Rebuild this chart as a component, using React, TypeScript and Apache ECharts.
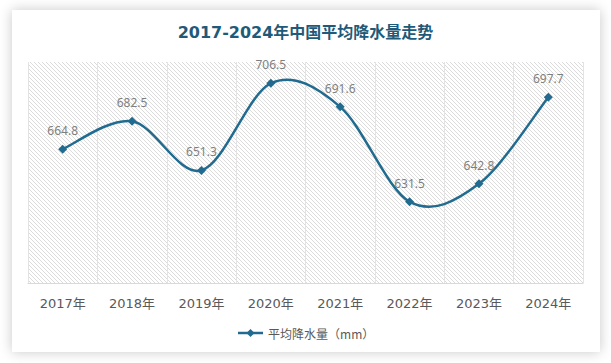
import React, { useEffect, useRef } from "react";
import * as echarts from "echarts";

const categories = ["2017年", "2018年", "2019年", "2020年", "2021年", "2022年", "2023年", "2024年"];
const rainfall = [664.8, 682.5, 651.3, 706.5, 691.6, 631.5, 642.8, 697.7];
const seriesName = "平均降水量（mm）";
const titleText = "2017-2024年中国平均降水量走势";

const LINE_COLOR = "#206b8f";

function makeHatch(): HTMLCanvasElement {
  const size = 4;
  const c = document.createElement("canvas");
  c.width = size;
  c.height = size;
  const ctx = c.getContext("2d")!;
  ctx.fillStyle = "#ffffff";
  ctx.fillRect(0, 0, size, size);
  ctx.fillStyle = "#dcdcdc";
  for (let x = 0; x < size; x++) {
    for (let y = 0; y < size; y++) {
      if ((x - y + size) % size === 0) ctx.fillRect(x, y, 1, 1);
    }
  }
  return c;
}

export default function App() {
  const ref = useRef<HTMLDivElement>(null);
  useEffect(() => {
    document.body.style.margin = "0";
    const chart = echarts.init(ref.current!, undefined, { renderer: "svg" });
    const hatch = makeHatch();

    const renderCurve = (_params: any, api: any) => {
      const pts = rainfall.map((v, i) => api.coord([i, v]) as number[]);
      const n = pts.length;
      let d = `M${pts[0][0]},${pts[0][1]}`;
      for (let i = 0; i < n - 1; i++) {
        const p0 = pts[Math.max(i - 1, 0)];
        const p1 = pts[i];
        const p2 = pts[i + 1];
        const p3 = pts[Math.min(i + 2, n - 1)];
        const c1x = p1[0] + (p2[0] - p0[0]) / 6;
        const c1y = p1[1] + (p2[1] - p0[1]) / 6;
        const c2x = p2[0] - (p3[0] - p1[0]) / 6;
        const c2y = p2[1] - (p3[1] - p1[1]) / 6;
        d += ` C${c1x},${c1y} ${c2x},${c2y} ${p2[0]},${p2[1]}`;
      }
      return {
        type: "path",
        shape: { pathData: d },
        style: { stroke: LINE_COLOR, lineWidth: 2.5, fill: "none" },
      };
    };

    chart.setOption({
      animation: false,
      title: {
        text: titleText,
        left: "center",
        top: 24,
        padding: 0,
        textStyle: {
          fontFamily: "'DejaVu Sans', 'Noto Sans CJK SC'",
          fontWeight: "bold",
          fontSize: 16,
          color: "#1f5a78",
        },
      },
      grid: {
        left: 28,
        right: 28,
        top: 62,
        bottom: 80,
        show: true,
        borderWidth: 0,
        backgroundColor: { image: hatch, repeat: "repeat", imageWidth: 4, imageHeight: 4 },
      },
      legend: {
        data: [seriesName],
        top: 322,
        left: "center",
        itemWidth: 25,
        itemHeight: 10,
        itemGap: 2,
        lineStyle: { color: LINE_COLOR, width: 2.5, opacity: 1 },
        textStyle: {
          fontFamily: "'Noto Sans CJK SC'",
          fontSize: 12,
          color: "#595959",
        },
      },
      xAxis: {
        type: "category",
        data: categories,
        boundaryGap: true,
        axisLine: { lineStyle: { color: "#d9d9d9", width: 1 } },
        axisTick: { show: false },
        splitLine: { show: true, interval: 0, lineStyle: { color: "#e3e3e3", width: 1 } },
        axisLabel: {
          interval: 0,
          margin: 14,
          fontFamily: "'DejaVu Sans', 'Noto Sans CJK SC'",
          fontSize: 13,
          color: "#595959",
        },
      },
      yAxis: {
        type: "value",
        min: 580,
        max: 720,
        show: false,
        splitLine: { show: false },
      },
      series: [
        {
          type: "custom",
          coordinateSystem: "cartesian2d",
          data: [[0, rainfall[0]]],
          renderItem: renderCurve,
          silent: true,
          z: 1,
        },
        {
          name: seriesName,
          type: "line",
          data: rainfall,
          symbol: "diamond",
          symbolSize: 9,
          z: 3,
          lineStyle: { color: LINE_COLOR, width: 2.5, opacity: 0 },
          itemStyle: { color: LINE_COLOR },
          label: {
            show: true,
            position: "top",
            distance: 8,
            fontFamily: "'Noto Sans'",
            fontSize: 12,
            color: "#7f7f7f",
          },
        },
      ],
    });
    return () => chart.dispose();
  }, []);
  return (
    <div style={{ position: "fixed", left: 0, top: 0, width: 611, height: 363, background: "#ffffff" }}>
      <div
        style={{
          position: "absolute",
          left: 12,
          top: 10,
          width: 588,
          height: 342,
          background: "#ffffff",
          boxShadow: "0 0 12px rgba(0,0,0,0.22)",
        }}
      />
      <div ref={ref} style={{ position: "absolute", left: 0, top: 0, width: 611, height: 363 }} />
    </div>
  );
}
